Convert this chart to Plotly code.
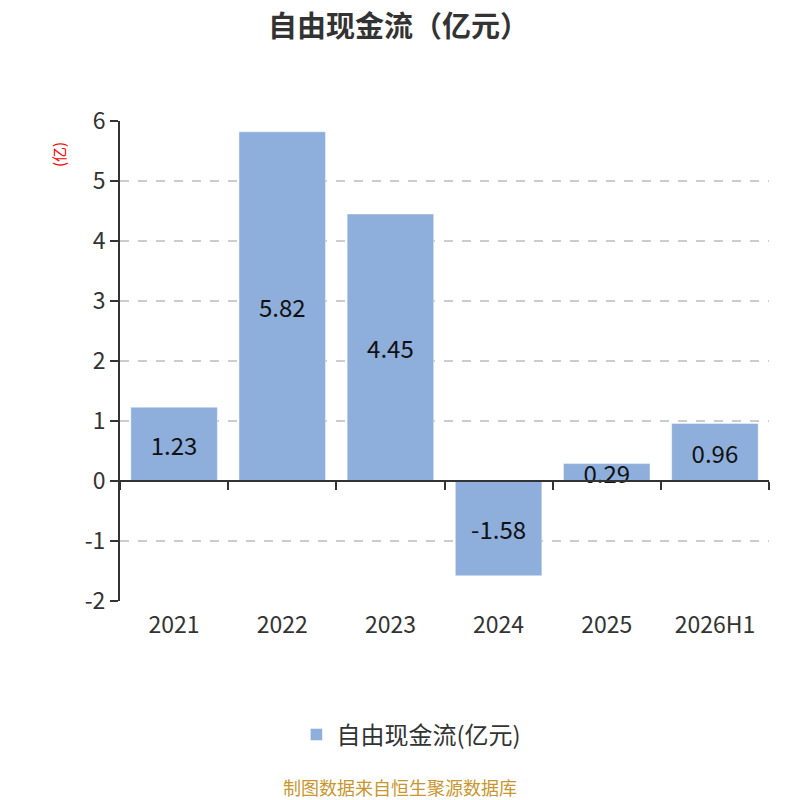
import plotly.graph_objects as go

categories = ["2021", "2022", "2023", "2024", "2025", "2026H1"]
values = [1.23, 5.82, 4.45, -1.58, 0.29, 0.96]
value_labels = ["1.23", "5.82", "4.45", "-1.58", "0.29", "0.96"]
y_ticks = [-2, -1, 0, 1, 2, 3, 4, 5, 6]

FONT = "Noto Sans CJK SC"
BAR_COLOR = "#8eaedb"

fig = go.Figure()
fig.add_trace(go.Bar(
    x=categories, y=values, name="自由现金流(亿元)",
    marker=dict(color=BAR_COLOR, line=dict(color="rgba(255,255,255,0.45)", width=1)),
    width=0.8,
    text=value_labels, textposition="inside", insidetextanchor="middle",
    textangle=0, constraintext="none",
    textfont=dict(family=FONT, size=24, color="#111111"),
    hoverinfo="x+y",
))
# invisible trace to carry the zero-line axis with boundary ticks
fig.add_trace(go.Scatter(
    x=categories, y=[0] * len(categories), xaxis="x2", mode="markers",
    marker=dict(opacity=0), showlegend=False, hoverinfo="skip",
))

fig.update_layout(
    width=800, height=800,
    paper_bgcolor="white", plot_bgcolor="white",
    margin=dict(l=120, r=31, t=121, b=199),
    title=dict(text="<b>自由现金流（亿元）</b>", x=0.498, xanchor="center",
               y=0.967, yanchor="middle",
               font=dict(family=FONT, size=29, color="#333333")),
    font=dict(family=FONT, color="#333333"),
    bargap=0.2,
    xaxis=dict(
        type="category", showline=False, ticks="", showgrid=False,
        tickfont=dict(family=FONT, size=23, color="#333333"),
        ticklabelstandoff=8, fixedrange=True,
    ),
    xaxis2=dict(
        type="category", overlaying="x", matches="x", anchor="free", position=0.25,
        side="bottom", showline=True, linecolor="#333333", linewidth=2,
        ticks="outside", ticklen=8, tickwidth=2, tickcolor="#333333",
        tickson="boundaries", showticklabels=False, showgrid=False,
    ),
    yaxis=dict(
        range=[-2, 6], tickvals=y_ticks, ticktext=[str(v) for v in y_ticks],
        showline=True, linecolor="#333333", linewidth=2,
        ticks="outside", ticklen=8, tickwidth=2, tickcolor="#333333",
        showgrid=True, gridcolor="#cccccc", griddash="dash", gridwidth=1.5,
        zeroline=False, fixedrange=True,
        tickfont=dict(family=FONT, size=23, color="#333333"),
    ),
    legend=dict(orientation="h", x=0.449, xanchor="center", y=-0.279, yanchor="middle",
                font=dict(family=FONT, size=24, color="#333333")),
    annotations=[
        dict(text="(亿)", xref="paper", yref="paper", x=-0.0955, y=0.929,
             xanchor="center", yanchor="middle", textangle=-90, showarrow=False,
             font=dict(family=FONT, size=15, color="red")),
        dict(text="制图数据来自恒生聚源数据库", xref="paper", yref="paper",
             x=0.431, y=-0.388, xanchor="center", yanchor="middle", showarrow=False,
             font=dict(family=FONT, size=18, color="#c8962e")),
    ],
)

fig.write_html("out.html", config={"displayModeBar": False},
               post_script="document.body.style.margin='0px';")
